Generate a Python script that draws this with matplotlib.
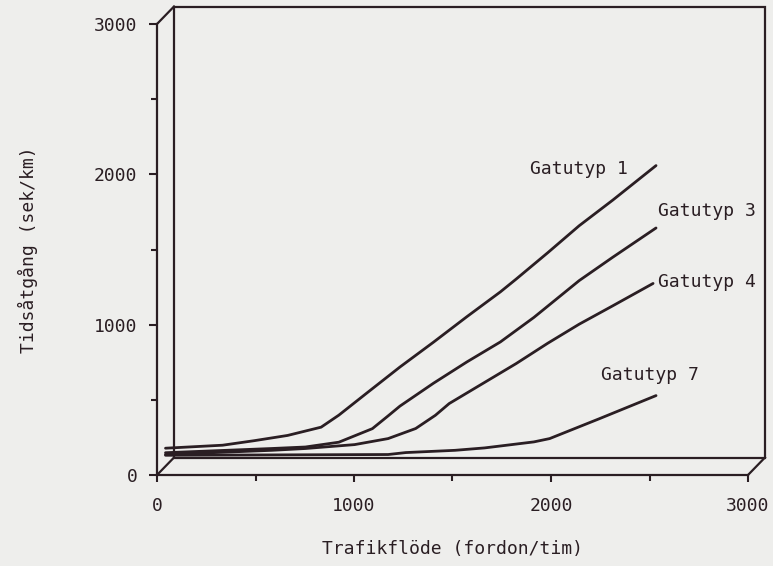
import matplotlib
matplotlib.use("Agg")
import matplotlib.pyplot as plt
from matplotlib.transforms import ScaledTranslation
from matplotlib.patches import Rectangle
from matplotlib.lines import Line2D

# ---- data ----
g1_x = [0, 290, 450, 620, 790, 880, 1020, 1190, 1360, 1530, 1700, 1780, 1940, 2100, 2270, 2490]
g1_y = [120, 140, 170, 205, 260, 340, 485, 660, 825, 995, 1160, 1245, 1420, 1600, 1770, 2000]

g3_x = [0, 540, 710, 880, 1050, 1130, 1190, 1360, 1530, 1700, 1870, 2100, 2270, 2490]
g3_y = [90, 118, 128, 160, 250, 335, 400, 552, 694, 827, 990, 1235, 1390, 1585]

g4_x = [0, 540, 710, 960, 1130, 1270, 1370, 1440, 1610, 1780, 1940, 2100, 2270, 2475]
g4_y = [78, 106, 118, 144, 184, 251, 339, 417, 550, 683, 818, 945, 1067, 1216]

g7_x = [0, 1130, 1220, 1470, 1620, 1870, 1950, 2200, 2490]
g7_y = [73, 78, 91, 106, 122, 162, 184, 315, 470]

series = [
    ("Gatutyp 1", g1_x, g1_y),
    ("Gatutyp 3", g3_x, g3_y),
    ("Gatutyp 4", g4_x, g4_y),
    ("Gatutyp 7", g7_x, g7_y),
]
x_ticks = [0, 1000, 2000, 3000]
y_ticks = [0, 1000, 2000, 3000]
x_label = "Trafikflöde (fordon/tim)"
y_label = "Tidsåtgång (sek/km)"

# ---- style ----
bg = "#eeeeec"
ink = "#2a1e23"
W, H = 773, 566
plt.rcParams["font.family"] = ["DejaVu Sans Mono", "DejaVu Sans"]
plt.rcParams["font.size"] = 13

fig = plt.figure(figsize=(W / 100, H / 100), dpi=100, facecolor=bg)
ax_l, ax_b, ax_w, ax_h = 157, 91, 591, 451
ax = fig.add_axes([ax_l / W, ax_b / H, ax_w / W, ax_h / H])
ax.patch.set_visible(False)
ax.set_xlim(0, 3000)
ax.set_ylim(0, 3000)
for s in ("top", "right"):
    ax.spines[s].set_visible(False)
for s in ("left", "bottom"):
    ax.spines[s].set_color(ink)
    ax.spines[s].set_linewidth(1.6)
    ax.spines[s].set_capstyle("projecting")

ax.set_xticks(x_ticks)
ax.set_yticks(y_ticks)
ax.set_xticks([500, 1500, 2500], minor=True)
ax.set_yticks([500, 1500, 2500], minor=True)
ax.tick_params(axis="both", which="both", color=ink, labelcolor=ink, width=1.5)
ax.tick_params(axis="x", which="major", length=5, pad=11)
ax.tick_params(axis="x", which="minor", length=4)
ax.tick_params(axis="y", which="major", length=6, pad=8)
ax.tick_params(axis="y", which="minor", length=4)
ax.set_xlabel(x_label, color=ink, labelpad=18)
ax.set_ylabel(y_label, color=ink, labelpad=40)

# depth offset of the pseudo-3D box (pixels)
dpx, dpy = 17.0, 17.5
back = ax.transAxes + ScaledTranslation(dpx / 100, dpy / 100, fig.dpi_scale_trans)
mid = ax.transData + ScaledTranslation(dpx / 200, dpy / 200, fig.dpi_scale_trans)

ax.add_patch(Rectangle((0, 0), 1, 1, transform=back, fill=False,
                       edgecolor=ink, linewidth=1.6, clip_on=False))
fx, fy = dpx / ax_w, dpy / ax_h
for (cx, cy) in [(0, 0), (0, 1), (1, 0)]:
    ax.add_line(Line2D([cx, cx + fx], [cy, cy + fy], transform=ax.transAxes,
                       color=ink, linewidth=1.6, clip_on=False))

for name, xs, ys in series:
    ax.plot(xs, ys, color=ink, linewidth=2.0, transform=mid, clip_on=False,
            solid_joinstyle="round", solid_capstyle="round")

label_pos = {
    "Gatutyp 1": (2345, 1975, "right"),
    "Gatutyp 3": (2500, 1700, "left"),
    "Gatutyp 4": (2500, 1225, "left"),
    "Gatutyp 7": (2460, 605, "center"),
}
for name, xs, ys in series:
    lx, ly, ha = label_pos[name]
    ax.text(lx, ly, name, transform=mid, ha=ha, va="center", color=ink)

fig.savefig("out.png", dpi=100, facecolor=bg)
